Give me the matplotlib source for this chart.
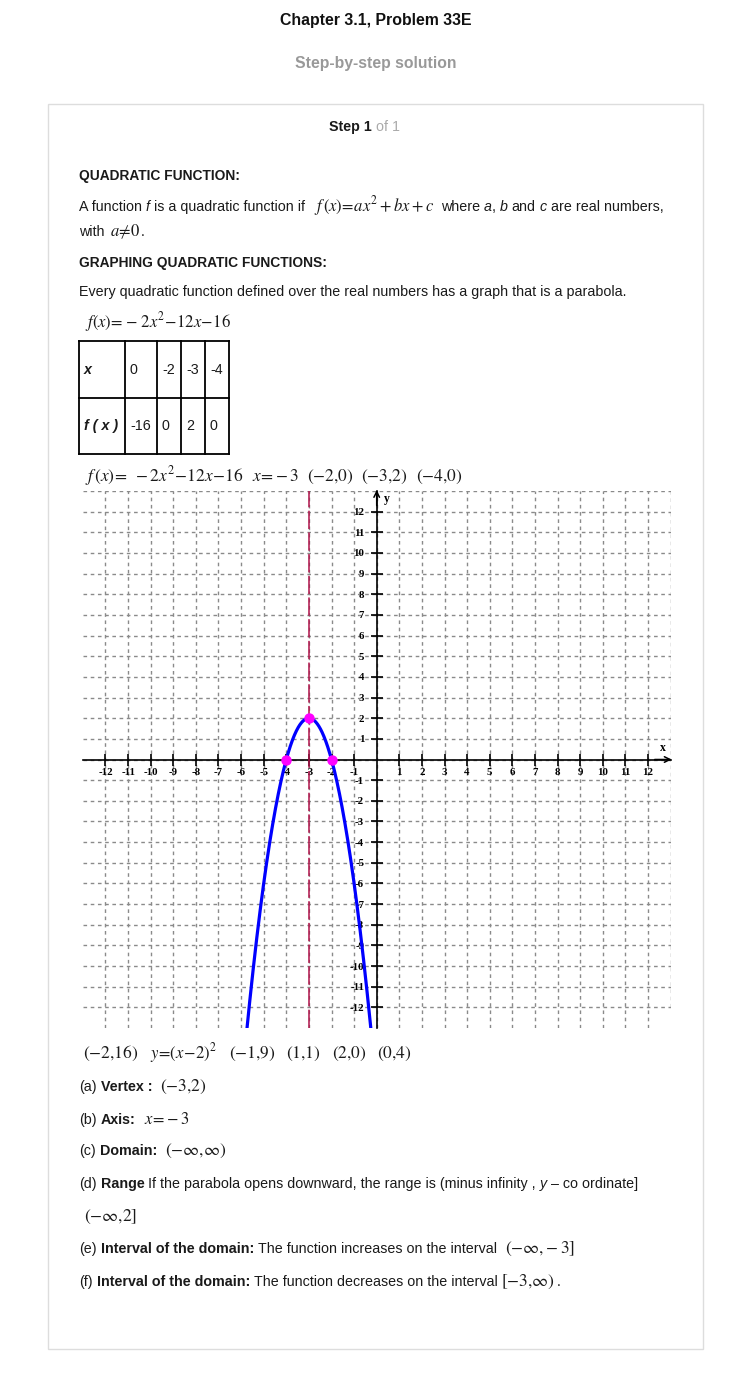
import numpy as np
import matplotlib
matplotlib.use('Agg')
import matplotlib.pyplot as plt
from matplotlib.patches import Rectangle

W, H = 752, 1376

# quadratic f(x) = a x^2 + b x + c
coef = [-2, -12, -16]
table_x = [0, -2, -3, -4]
table_fx = [-16, 0, 2, 0]
marked_x = [-4, -3, -2]
marked_y = [0, 2, 0]
axis_x = -3
tick_vals = [t for t in range(-12, 13) if t != 0]
# points listed under the graph
listed = [(-2, 16), (-1, 9), (1, 1), (2, 0), (0, 4)]

plt.rcParams['mathtext.fontset'] = 'stix'
plt.rcParams['font.family'] = ['Liberation Sans', 'DejaVu Sans']

fig = plt.figure(figsize=(W / 100, H / 100), dpi=100)
fig.patch.set_facecolor('white')

# page layer in pixel coordinates
bg = fig.add_axes([0, 0, 1, 1])
bg.set_xlim(0, W)
bg.set_ylim(H, 0)
bg.axis('off')
R = fig.canvas.get_renderer()

TXT = '#1a1a1a'
BODY = 10.3
MATH = 12.5
SP = 3.9

def line(x, y, parts):
    # parts: (text, style dict, gap after in px)
    for p in parts:
        s, kw = p[0], dict(p[1])
        gap = p[2] if len(p) > 2 else SP
        kw.setdefault('size', BODY)
        kw.setdefault('color', TXT)
        t = bg.text(x, y, s, va='baseline', ha='left', **kw)
        x += t.get_window_extent(R).width + gap
    return x

def pt(p):
    return r'$\left(%d{,}%d\right)$' % p

N = {}
B = {'weight': 'bold'}
HB = {'weight': 'bold', 'size': 9.9}
I = {'style': 'italic'}
M = {'size': MATH}
M2 = {'size': 12}

bg.text(376, 25, 'Chapter 3.1, Problem 33E', ha='center', va='baseline',
        weight='bold', size=11.4, color='#111')
bg.text(376, 68, 'Step-by-step solution', ha='center', va='baseline',
        weight='bold', size=11.3, color='#999999')
bg.add_patch(Rectangle((48, 104), 655, 1245, fill=False, ec='#dddddd', lw=1))
line(329, 131, [('Step 1', {'weight': 'bold'}),
                ('of 1', {'color': '#aaaaaa'})])

line(79, 180, [('QUADRATIC FUNCTION:', HB)])
line(79, 211, [('A function', N), ('f', I), ('is a quadratic function if', N, 9),
               (r'$f\,\left(x\right)\!=\!ax^2+bx+c$', M2, 7),
               ('where', N), ('a', I, 0), (',', N), ('b', I), ('and', N), ('c', I),
               ('are real numbers,', N)])
line(79, 236, [('with', N, 5), (r'$a\!\neq\!0$', M2, 1), ('.', N)])
line(79, 267, [('GRAPHING QUADRATIC FUNCTIONS:', HB)])
line(79, 296, [('Every quadratic function defined over the real numbers has a graph that is a parabola.', N)])
line(85, 327, [(r'$f(x)\!=\!-\,2x^2\!-\!12x\!-\!16$', M2)])

# value table
col_edges = [79, 125, 157, 181, 205, 229]
row_edges = [341, 398, 454]
for cx in col_edges:
    bg.plot([cx, cx], [row_edges[0], row_edges[-1]], color='k', lw=1.3)
for ry in row_edges:
    bg.plot([col_edges[0], col_edges[-1]], [ry, ry], color='k', lw=1.3)
rows = [['x'] + [str(v) for v in table_x], ['f ( x )'] + [str(v) for v in table_fx]]
for r, vals in enumerate(rows):
    yc = (row_edges[r] + row_edges[r + 1]) / 2
    for c, v in enumerate(vals):
        kw = {'weight': 'bold', 'style': 'italic'} if c == 0 else {}
        bg.text(col_edges[c] + 5, yc, v, va='center', ha='left', size=BODY,
                color=TXT, **kw)

top_pts = [(x, y) for x, y in zip(table_x, table_fx) if y >= 0]
line(85, 481, [(r'$f\,\left(x\right)\!=\ -2x^2\!-\!12x\!-\!16$', M, 8),
               (r'$x\!=\!-3$', M, 8)] + [(pt(p), M, 8) for p in top_pts])

# graph
x0 = 376.7 - 13 * 22.6
y0 = 759.5 + 13 * 20.65
ax = fig.add_axes([x0 / W, 1 - y0 / H, 26 * 22.6 / W, 26 * 20.65 / H])
ax.set_facecolor('none')
ax.set_xlim(-13, 13)
ax.set_ylim(-13, 13)

gs = dict(color='#8a8a8a', lw=1, linestyles=(0, (2.6, 2.6)), zorder=0)
ax.vlines(np.arange(-12, 13), -13, 13, **gs)
ax.vlines([13], -12, 13, **gs)
ax.hlines(np.arange(-12, 14), -13, 13, **gs)

for side in ['top', 'right']:
    ax.spines[side].set_visible(False)
for side in ['left', 'bottom']:
    ax.spines[side].set_position(('data', 0))
    ax.spines[side].set_linewidth(1.2)
    ax.spines[side].set_zorder(2)
ax.set_xticks(tick_vals)
ax.set_yticks(tick_vals)
tf = {'family': 'Liberation Serif', 'weight': 'bold', 'size': 7.8}
ax.set_xticklabels([str(t) for t in tick_vals], fontdict=tf)
ax.set_yticklabels([str(t) for t in tick_vals], fontdict=tf)
ax.tick_params(direction='inout', length=8, width=1.2, pad=2)
ax.tick_params(axis='y', pad=5)

ax.annotate('', xy=(13.05, 0), xytext=(12.3, 0), annotation_clip=False,
            arrowprops=dict(arrowstyle='->', lw=1.1, color='k', shrinkA=0, shrinkB=0))
ax.annotate('', xy=(0, 13.05), xytext=(0, 12.3), annotation_clip=False,
            arrowprops=dict(arrowstyle='->', lw=1.1, color='k', shrinkA=0, shrinkB=0))
ax.text(12.65, 0.55, 'x', fontdict=tf, size=8.5, ha='center', va='center')
ax.text(0.45, 12.6, 'y', fontdict=tf, size=8.5, ha='center', va='center')

ax.axvline(axis_x, color='#b0124a', lw=1.1, dashes=(12, 2.2), zorder=3)
xs = np.linspace(-6.5, 0.5, 500)
ys = coef[0] * xs ** 2 + coef[1] * xs + coef[2]
ax.plot(xs, ys, color='#0000ff', lw=2.3, zorder=4)
ax.plot(marked_x, marked_y, 'o', color='#ff00ff', ms=6.5, zorder=5)

# answers
line(83, 1058, [(pt(listed[0]), M, 12), (r'$y\!=\!\left(x\!-\!2\right)^2$', M2, 12)]
     + [(pt(p), M, 11) for p in listed[1:]])
line(79, 1091, [('(a)', N), ('Vertex :', B, 8), (pt((-3, 2)), M)])
line(79, 1124, [('(b)', N), ('Axis:', B, 9), (r'$x\!=\!-3$', M2)])
line(79, 1155, [('(c)', N), ('Domain:', B, 8), (r'$\left(-\infty{,}\infty\right)$', M)])
line(79, 1188, [('(d)', N), ('Range', B),
                ('If the parabola opens downward, the range is (minus infinity ,', N),
                ('y', I), ('\u2013 co ordinate]', N)])
line(84, 1221, [(r'$\left(-\infty{,}2\right]$', M)])
line(79, 1253, [('(e)', N), ('Interval of the domain:', B),
                ('The function increases on the interval', N, 8),
                (r'$\left(-\infty{,}-3\right]$', M)])
line(79, 1286, [('(f)', N), ('Interval of the domain:', B),
                ('The function decreases on the interval', N, 4),
                (r'$\left[-3{,}\infty\right)$', M, 1), ('.', N)])

fig.savefig('out.png', dpi=100)
